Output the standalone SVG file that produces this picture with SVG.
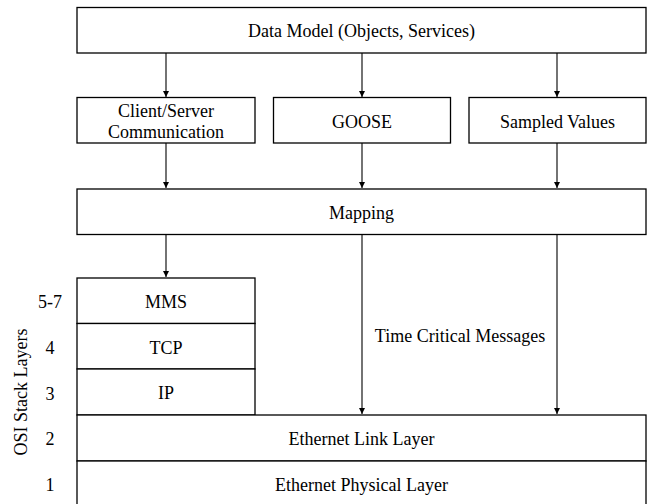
<svg xmlns="http://www.w3.org/2000/svg" width="655" height="504" viewBox="0 0 655 504">
<style>
.box{fill:#fff;stroke:#000;stroke-width:1.3}
.t{font-family:'Liberation Serif','Times New Roman',serif;font-size:18px;fill:#000;text-anchor:middle}
.c{fill:none;stroke:#000;stroke-width:1.1}
</style>
<defs>
<marker id="ah" markerUnits="userSpaceOnUse" markerWidth="6" markerHeight="6" refX="6" refY="3" orient="auto">
<path d="M0,0 L6,3 L0,6 z" fill="#000"/>
</marker>
</defs>
<rect width="655" height="504" fill="#fff"/>
<g id="connectors">
<line class="c" x1="166" y1="53" x2="166" y2="97" marker-end="url(#ah)"/>
<line class="c" x1="362" y1="53" x2="362" y2="97" marker-end="url(#ah)"/>
<line class="c" x1="557" y1="53" x2="557" y2="97" marker-end="url(#ah)"/>
<line class="c" x1="166" y1="143" x2="166" y2="188" marker-end="url(#ah)"/>
<line class="c" x1="362" y1="143" x2="362" y2="188" marker-end="url(#ah)"/>
<line class="c" x1="557" y1="143" x2="557" y2="188" marker-end="url(#ah)"/>
<line class="c" x1="166" y1="234" x2="166" y2="277" marker-end="url(#ah)"/>
<line class="c" x1="362" y1="234" x2="362" y2="414" marker-end="url(#ah)"/>
<line class="c" x1="557" y1="234" x2="557" y2="414" marker-end="url(#ah)"/>
</g>
<g id="datamodel"><rect class="box" x="77" y="7.5" width="569" height="45.5"/><text class="t" x="361.5" y="37">Data Model (Objects, Services)</text></g>
<g id="clientserver"><rect class="box" x="77" y="97.5" width="178" height="45.5"/><text class="t" x="166" y="117">Client/Server</text><text class="t" x="166" y="138">Communication</text></g>
<g id="goose"><rect class="box" x="273.5" y="97.5" width="177" height="45.5"/><text class="t" x="362" y="128">GOOSE</text></g>
<g id="sampled"><rect class="box" x="469" y="97.5" width="177" height="45.5"/><text class="t" x="557.5" y="128">Sampled Values</text></g>
<g id="mapping"><rect class="box" x="77" y="189" width="569" height="45.5"/><text class="t" x="361.5" y="219">Mapping</text></g>
<g id="mms"><rect class="box" x="77" y="278" width="178" height="45.5"/><text class="t" x="166" y="308">MMS</text></g>
<g id="tcp"><rect class="box" x="77" y="323.5" width="178" height="45.5"/><text class="t" x="166" y="353.5">TCP</text></g>
<g id="ip"><rect class="box" x="77" y="369" width="178" height="46"/><text class="t" x="166" y="399">IP</text></g>
<g id="link"><rect class="box" x="77" y="415" width="569" height="46"/><text class="t" x="361.5" y="445">Ethernet Link Layer</text></g>
<g id="physical"><rect class="box" x="77" y="461" width="569" height="60"/><text class="t" x="361.5" y="491">Ethernet Physical Layer</text></g>
<text class="t" x="460" y="342">Time Critical Messages</text>
<g id="layers">
<text class="t" x="50" y="308">5-7</text>
<text class="t" x="50" y="354">4</text>
<text class="t" x="50" y="400">3</text>
<text class="t" x="50" y="445">2</text>
<text class="t" x="50" y="491">1</text>
<text class="t" transform="translate(26.5,392) rotate(-90)">OSI Stack Layers</text>
</g>
</svg>
